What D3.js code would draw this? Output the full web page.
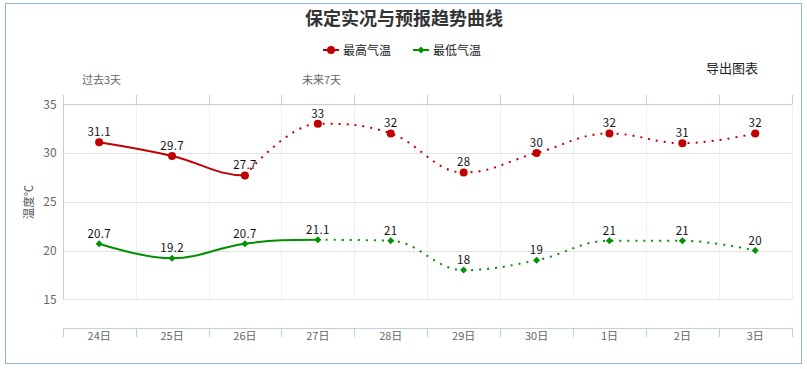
<!DOCTYPE html>
<html><head><meta charset="utf-8">
<script src="https://cdn.jsdelivr.net/npm/d3@7"></script>
<style>
html,body{margin:0;padding:0;background:#fff;}
text{font-family:"Noto Sans CJK SC","Noto Sans",sans-serif;}
</style></head>
<body><svg id="c" width="807" height="369"></svg>
<script>
const categories = ["24日","25日","26日","27日","28日","29日","30日","1日","2日","3日"];
const maxActual   = [31.1, 29.7, 27.7, null, null, null, null, null, null, null];
const maxForecast = [null, null, 27.7, 33, 32, 28, 30, 32, 31, 32];
const minActual   = [20.7, 19.2, 20.7, 21.1, null, null, null, null, null, null];
const minForecast = [null, null, null, 21.1, 21, 18, 19, 21, 21, 20];
const maxLabels = [31.1, 29.7, 27.7, 33, 32, 28, 30, 32, 31, 32];
const minLabels = [20.7, 19.2, 20.7, 21.1, 21, 18, 19, 21, 21, 20];
const yTicks = [15, 20, 25, 30, 35];
const title = "保定实况与预报趋势曲线";
const legendNames = ["最高气温", "最低气温"];
const colors = {max: "#c00000", min: "#009000"};

const svg = d3.select("#c");
const L = 62.7, R = 791.7, yTop = 104.2, yBot = 299.3, xAxisY = 327.7;

svg.append("rect").attr("x",5.5).attr("y",3.5).attr("width",796).attr("height",360)
  .attr("fill","none").attr("stroke","#8ab8e6").attr("stroke-width",1);

const x = d3.scaleBand().domain(categories).range([L, R]);
const y = d3.scaleLinear().domain([15, 35]).range([yBot, yTop]);
const cx = c => x(c) + x.bandwidth()/2;

const bounds = categories.map(c => x(c)).concat([R]);
svg.append("g").selectAll("line").data(bounds.slice(1,-1)).join("line")
  .attr("x1", d=>Math.round(d)+0.5).attr("x2", d=>Math.round(d)+0.5)
  .attr("y1", yTop).attr("y2", yBot).attr("stroke","#eef0f4");
svg.append("g").selectAll("line").data(yTicks).join("line")
  .attr("x1", L).attr("x2", R)
  .attr("y1", d=>Math.round(y(d))+0.5).attr("y2", d=>Math.round(y(d))+0.5)
  .attr("stroke", d => d===35 ? "#c0d0e0" : "#e3e3e3");
svg.append("line").attr("x1",Math.round(R)+0.5).attr("x2",Math.round(R)+0.5)
  .attr("y1",yTop).attr("y2",yBot).attr("stroke","#eef0f4");
svg.append("line").attr("x1",Math.round(L)+0.5).attr("x2",Math.round(L)+0.5)
  .attr("y1",95).attr("y2",yBot).attr("stroke","#c0d0e0");
svg.append("g").selectAll("line").data(bounds).join("line")
  .attr("x1", d=>Math.round(d)+0.5).attr("x2", d=>Math.round(d)+0.5)
  .attr("y1", 95).attr("y2", Math.round(yTop)).attr("stroke","#c0d0e0");

const xAxisG = svg.append("g").attr("transform",`translate(0,${Math.round(xAxisY)+0.5})`)
  .call(d3.axisBottom(x).tickSize(0).tickPadding(10));
xAxisG.select(".domain").attr("stroke","#c0d0e0").attr("d",`M${L},0H${R}`);
xAxisG.selectAll("text").attr("fill","#666").attr("font-size",11)
  .attr("font-family",'"Noto Sans CJK SC",sans-serif').attr("dy","0.1em");
svg.append("g").selectAll("line").data(bounds).join("line")
  .attr("x1", d=>Math.round(d)+0.5).attr("x2", d=>Math.round(d)+0.5)
  .attr("y1", Math.round(xAxisY)).attr("y2", 337).attr("stroke","#c0d0e0");

const yAxisG = svg.append("g").attr("transform",`translate(${L},0)`)
  .call(d3.axisLeft(y).tickValues(yTicks).tickSize(0).tickPadding(6));
yAxisG.select(".domain").remove();
yAxisG.selectAll("text").attr("fill","#666").attr("font-size",12)
  .attr("font-family",'"Noto Sans","DejaVu Sans",sans-serif');

svg.append("text").attr("transform","translate(33,202) rotate(-90)")
  .attr("text-anchor","middle").attr("font-size",11.5).attr("fill","#555").text("温度℃");

// Highcharts-like spline; tangents from the full series, only segments where `drawVals` is defined are drawn
function spline(fullVals, drawVals) {
  const pts = [];
  fullVals.forEach((v,i)=>{ if (v!==null) pts.push({i, x:cx(categories[i]), y:y(v)}); });
  const sm = 1.5, den = sm + 1;
  const ctrl = pts.map((pt,k)=>{
    const px=pt.x, py=pt.y;
    if (k===0 || k===pts.length-1) return {lc:[px,py], rc:[px,py]};
    const lx=pts[k-1].x, ly=pts[k-1].y, nx=pts[k+1].x, ny=pts[k+1].y;
    let lcx=(sm*px+lx)/den, lcy=(sm*py+ly)/den, rcx=(sm*px+nx)/den, rcy=(sm*py+ny)/den;
    let corr = 0;
    if (rcx!==lcx) corr = ((rcy-lcy)*(rcx-px))/(rcx-lcx) + py - rcy;
    lcy += corr; rcy += corr;
    if (lcy>ly && lcy>py) { lcy=Math.max(ly,py); rcy=2*py-lcy; }
    else if (lcy<ly && lcy<py) { lcy=Math.min(ly,py); rcy=2*py-lcy; }
    if (rcy>ny && rcy>py) { rcy=Math.max(ny,py); lcy=2*py-rcy; }
    else if (rcy<ny && rcy<py) { rcy=Math.min(ny,py); lcy=2*py-rcy; }
    return {lc:[lcx,lcy], rc:[rcx,rcy]};
  });
  const p = d3.path();
  let started = false;
  for (let k=0;k<pts.length;k++){
    const on = drawVals[pts[k].i]!==null;
    if (!on) { started=false; continue; }
    if (!started) { p.moveTo(pts[k].x, pts[k].y); started=true; continue; }
    const a = ctrl[k-1].rc, b = ctrl[k].lc;
    p.bezierCurveTo(a[0],a[1],b[0],b[1],pts[k].x,pts[k].y);
  }
  return p.toString();
}

function drawSeries(d, color, dotted) {
  svg.append("path").attr("d", d).attr("fill","none")
    .attr("stroke",color).attr("stroke-width",2)
    .attr("stroke-dasharray", dotted ? "2,6" : null)
    .attr("stroke-linejoin","round");
}
drawSeries(spline(maxLabels, maxActual), colors.max, false);
drawSeries(spline(maxForecast, maxForecast), colors.max, true);
drawSeries(spline(minLabels, minActual), colors.min, false);
drawSeries(spline(minForecast, minForecast), colors.min, true);

const diamond = (s) => `M0,${-s}L${s},0L0,${s}L${-s},0Z`;
svg.append("g").selectAll("circle").data(maxLabels).join("circle")
  .attr("cx",(d,i)=>cx(categories[i])).attr("cy",d=>y(d)).attr("r",4).attr("fill",colors.max);
svg.append("g").selectAll("path").data(minLabels).join("path")
  .attr("transform",(d,i)=>`translate(${cx(categories[i])},${y(d)})`)
  .attr("d",diamond(3.5)).attr("fill",colors.min);

function labels(vals){
  svg.append("g").selectAll("text").data(vals).join("text")
    .attr("x",(d,i)=>cx(categories[i])).attr("y",d=>y(d)-6)
    .attr("text-anchor","middle").attr("font-size",11.5).attr("fill","#111")
    .attr("font-family",'"Noto Sans","DejaVu Sans",sans-serif')
    .attr("letter-spacing","0.3px")
    .text(d=>d);
}
labels(maxLabels); labels(minLabels);

svg.append("text").attr("x",404).attr("y",25).attr("text-anchor","middle")
  .attr("font-size",18).attr("font-weight","bold").attr("fill","#333").text(title);

const leg = [{name:legendNames[0], color:colors.max, x:323, m:"c"},{name:legendNames[1], color:colors.min, x:413, m:"d"}];
leg.forEach(l=>{
  const g = svg.append("g").attr("transform",`translate(${l.x},50)`);
  g.append("line").attr("x1",0).attr("x2",16).attr("stroke",l.color).attr("stroke-width",2);
  if (l.m==="c") g.append("circle").attr("cx",8).attr("r",4).attr("fill",l.color);
  else g.append("path").attr("transform","translate(8,0)").attr("d",diamond(3.5)).attr("fill",l.color);
  g.append("text").attr("x",20).attr("y",4.5).attr("font-size",12).attr("fill","#222").text(l.name);
});

svg.append("text").attr("x",706).attr("y",73).attr("font-size",13).attr("fill","#222").text("导出图表");
svg.append("text").attr("x",82).attr("y",84).attr("font-size",11).attr("fill","#666").text("过去3天");
svg.append("text").attr("x",302).attr("y",84).attr("font-size",11).attr("fill","#666").text("未来7天");
</script></body></html>
